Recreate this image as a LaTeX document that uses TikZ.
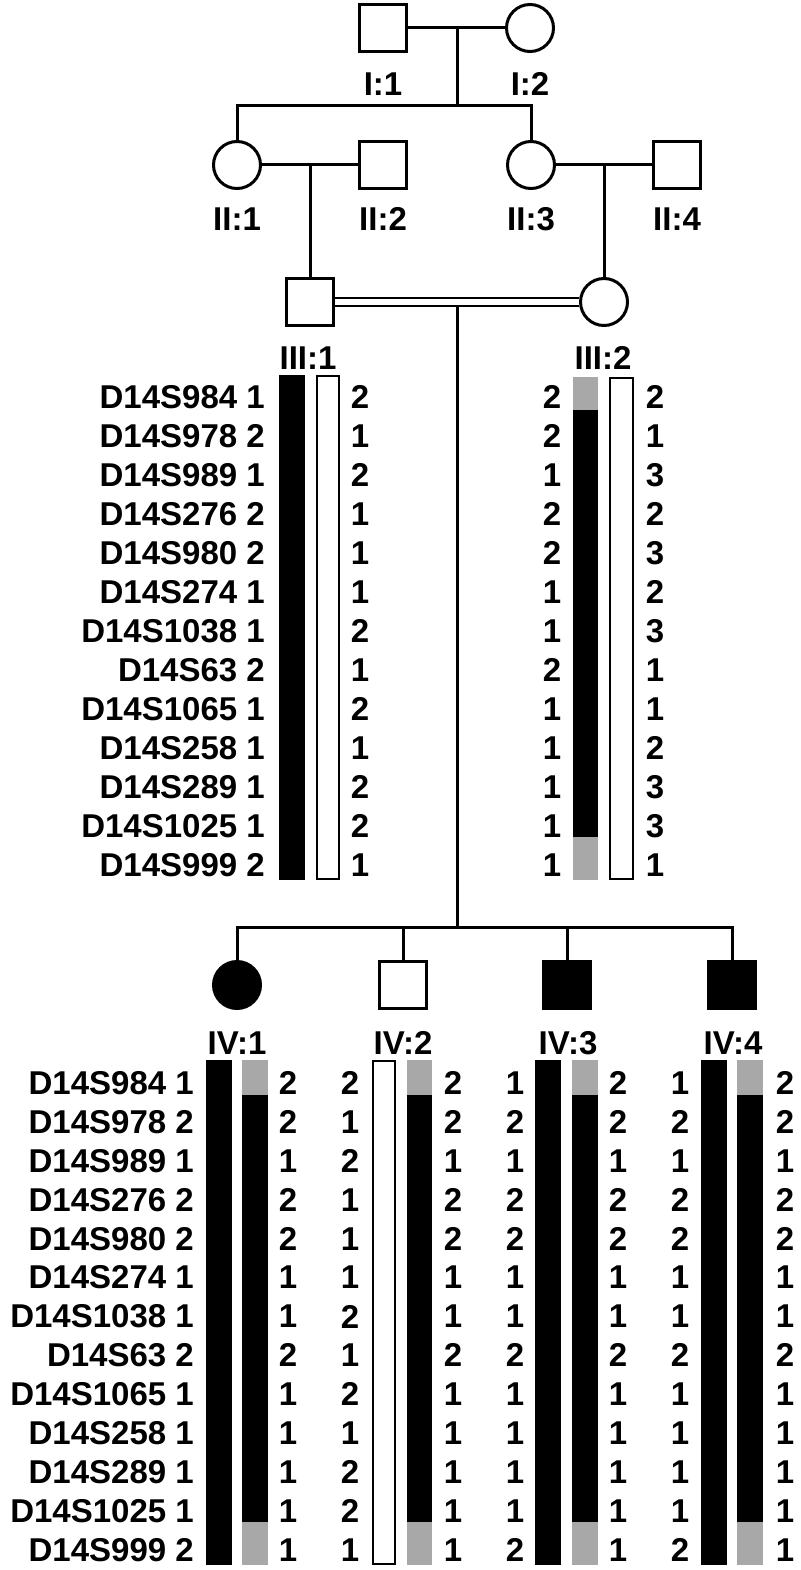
\documentclass[tikz,border=0pt]{standalone}
\usepackage{fontspec}
\setmainfont{Liberation Sans}
\definecolor{hapgray}{gray}{0.66}
\tikzset{
  lbl/.style={font=\fontsize{33}{37}\selectfont\bfseries, inner sep=0pt},
  malesym/.style={draw, line width=3pt, minimum size=47pt, inner sep=0pt},
  femalesym/.style={draw, circle, line width=3pt, minimum size=47pt, inner sep=0pt},
  ln/.style={line width=3pt},
  dbl/.style={line width=2.6pt},
  whitebar/.style={draw, line width=2.4pt, fill=white},
}
\begin{document}
\begin{tikzpicture}[x=1pt,y=-1pt]
\useasboundingbox (0,0) rectangle (800,1570);
% ---------- Generation I
\node[malesym] (I1) at (383,28) {};
\node[femalesym] (I2) at (530,28) {};
\node[lbl] (lI1) at (383,84) {I:1};
\node[lbl] (lI2) at (530,84) {I:2};
\coordinate (mI) at (457,28);
\coordinate (sI) at (457,106);
\draw[ln] (I1.east) -- (I2.west);
\draw[ln] (mI) -- (sI);
% ---------- Generation II
\node[femalesym] (II1) at (237,165) {};
\node[malesym] (II2) at (383,165) {};
\node[femalesym] (II3) at (531,165) {};
\node[malesym] (II4) at (677,165) {};
\node[lbl] (lII1) at (237,219) {II:1};
\node[lbl] (lII2) at (383,219) {II:2};
\node[lbl] (lII3) at (531,219) {II:3};
\node[lbl] (lII4) at (677,219) {II:4};
\draw[ln] (II1.north) -- (II1.north |- sI) -- (II3.north |- sI) -- (II3.north);
\draw[ln] (II1.east) -- (II2.west);
\draw[ln] (II3.east) -- (II4.west);
% ---------- Generation III
\node[malesym] (III1) at (310,302) {};
\node[femalesym] (III2) at (604,302) {};
\node[lbl] (lIII1) at (308,358) {III:1};
\node[lbl] (lIII2) at (603,358) {III:2};
\coordinate (mII12) at (310,165);
\coordinate (mII34) at (604,165);
\draw[ln] (mII12) -- (III1.north);
\draw[ln] (mII34) -- (III2.north);
\draw[dbl] ([yshift=4pt]III1.east) -- ([yshift=4pt]III2.west);
\draw[dbl] ([yshift=-4pt]III1.east) -- ([yshift=-4pt]III2.west);
\coordinate (mIII) at (457,306);
\coordinate (sIII) at (457,927);
\draw[ln] (mIII) -- (sIII);
% ---------- Generation IV
\node[femalesym, fill=black] (IV1) at (237,985) {};
\node[malesym] (IV2) at (403,985) {};
\node[malesym, fill=black] (IV3) at (567,985) {};
\node[malesym, fill=black] (IV4) at (732,985) {};
\node[lbl] (lIV1) at (237,1043) {IV:1};
\node[lbl] (lIV2) at (403,1043) {IV:2};
\node[lbl] (lIV3) at (568,1043) {IV:3};
\node[lbl] (lIV4) at (733,1043) {IV:4};
\draw[ln] (IV1.north) -- (IV1.north |- sIII) -- (IV4.north |- sIII) -- (IV4.north);
\draw[ln] (IV2.north |- sIII) -- (IV2.north);
\draw[ln] (IV3.north |- sIII) -- (IV3.north);
% ---------- Haplotype bars, generation III
\fill[black] (279,375) rectangle (305,880);
\draw[whitebar] (317,376) rectangle (339,879);
\fill[hapgray] (573,377) rectangle (598,410);
\fill[black] (573,410) rectangle (598,837);
\fill[hapgray] (573,837) rectangle (598,880);
\draw[whitebar] (610,378) rectangle (633,879);
% ---------- Haplotype bars, generation IV
% IV:1
\fill[black] (206,1060) rectangle (232,1565);
\fill[hapgray] (242,1060) rectangle (268,1095);
\fill[black] (242,1095) rectangle (268,1522);
\fill[hapgray] (242,1522) rectangle (268,1565);
% IV:2
\draw[whitebar] (373,1061) rectangle (395,1564);
\fill[hapgray] (407,1060) rectangle (432,1095);
\fill[black] (407,1095) rectangle (432,1522);
\fill[hapgray] (407,1522) rectangle (432,1565);
% IV:3
\fill[black] (535,1060) rectangle (561,1565);
\fill[hapgray] (572,1060) rectangle (598,1095);
\fill[black] (572,1095) rectangle (598,1522);
\fill[hapgray] (572,1522) rectangle (598,1565);
% IV:4
\fill[black] (701,1060) rectangle (727,1565);
\fill[hapgray] (737,1060) rectangle (763,1095);
\fill[black] (737,1095) rectangle (763,1522);
\fill[hapgray] (737,1522) rectangle (763,1565);
% ---------- Marker / allele texts
\foreach \m/\a/\b/\c/\d/\r [count=\i from 0] in {
  D14S984/1/2/2/2/2, D14S978/2/1/2/1/2, D14S989/1/2/1/3/1,
  D14S276/2/1/2/2/2, D14S980/2/1/2/3/2, D14S274/1/1/1/2/1,
  D14S1038/1/2/1/3/1, D14S63/2/1/2/1/2, D14S1065/1/2/1/1/1,
  D14S258/1/1/1/2/1, D14S289/1/2/1/3/1, D14S1025/1/2/1/3/1,
  D14S999/2/1/1/1/1} {
  \pgfmathsetmacro{\ya}{397+39*\i}
  \pgfmathsetmacro{\yb}{1083+38.92*\i}
  % generation III
  \node[lbl, anchor=east] (tIIIa-\i) at (265,\ya) {\m\ \a};
  \node[lbl] (tIIIb-\i) at (360,\ya) {\b};
  \node[lbl] (tIIIc-\i) at (552,\ya) {\c};
  \node[lbl] (tIIId-\i) at (655,\ya) {\d};
  % generation IV
  \node[lbl, anchor=east] (tIV1a-\i) at (194,\yb) {\m\ \a};
  \node[lbl] (tIV1b-\i) at (288,\yb) {\r};
  \node[lbl] (tIV2a-\i) at (350,\yb) {\b};
  \node[lbl] (tIV2b-\i) at (453,\yb) {\r};
  \node[lbl] (tIV3a-\i) at (515,\yb) {\a};
  \node[lbl] (tIV3b-\i) at (618,\yb) {\r};
  \node[lbl] (tIV4a-\i) at (680,\yb) {\a};
  \node[lbl] (tIV4b-\i) at (785,\yb) {\r};
}
\end{tikzpicture}
\end{document}
